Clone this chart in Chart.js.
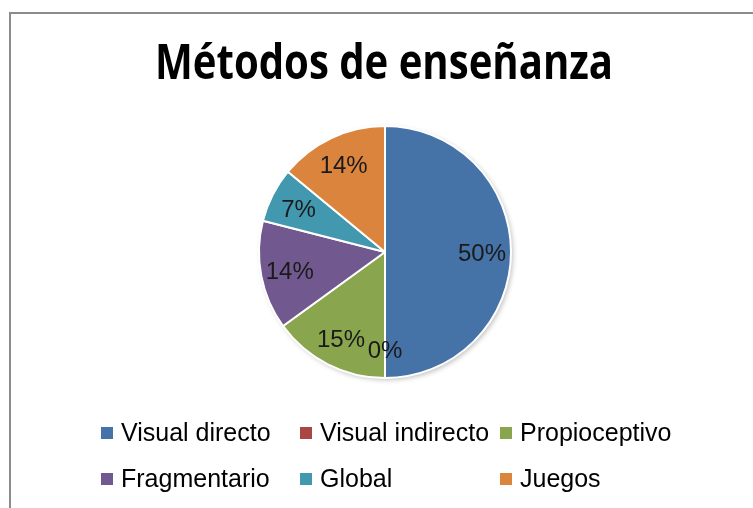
<!DOCTYPE html>
<html>
<head>
<meta charset="utf-8">
<script src="https://cdn.jsdelivr.net/npm/chart.js@4.4.1/dist/chart.umd.min.js"></script>
<style>
  html, body { margin: 0; padding: 0; background: #fff; }
  #wrap { position: relative; width: 753px; height: 508px; }
</style>
</head>
<body>
<div id="wrap"><canvas id="pieChart" width="753" height="508"></canvas></div>
<script>
// Datos del gráfico
const titleText = 'Métodos de enseñanza';
const categories = ['Visual directo', 'Visual indirecto', 'Propioceptivo', 'Fragmentario', 'Global', 'Juegos'];
const percentages = [50, 0, 15, 14, 7, 14];
const sliceColors = ['#4572A7', '#AA4643', '#89A54E', '#71588F', '#4198AF', '#DB843D'];

// marco, título, etiquetas y leyenda dibujados a mano
const decorPlugin = {
  id: 'decor',
  beforeDraw(chart) {
    const ctx = chart.ctx;
    ctx.save();
    ctx.strokeStyle = '#8c8c8c';
    ctx.lineWidth = 2;
    ctx.strokeRect(10, 13, 760, 520);
    ctx.restore();
  },
  beforeDatasetsDraw(chart) {
    // sombra suave bajo el pastel
    const ctx = chart.ctx;
    ctx.save();
    ctx.shadowColor = 'rgba(0,0,0,0.25)';
    ctx.shadowBlur = 5;
    ctx.shadowOffsetX = 2;
    ctx.shadowOffsetY = 2;
    const arc = chart.getDatasetMeta(0).data[0];
    ctx.beginPath();
    ctx.arc(arc.x, arc.y, arc.outerRadius, 0, Math.PI * 2);
    ctx.fillStyle = '#fff';
    ctx.fill();
    ctx.restore();
  },
  afterDraw(chart) {
    const ctx = chart.ctx;
    ctx.save();
    // título (estrecho, como en el original)
    ctx.fillStyle = '#000';
    ctx.font = 'bold 49px "Open Sans"';
    ctx.textAlign = 'left';
    ctx.textBaseline = 'alphabetic';
    const w = ctx.measureText(titleText).width;
    const sx = 458 / w;
    ctx.save();
    ctx.translate(155, 79);
    ctx.scale(sx, 1);
    ctx.fillText(titleText, 0, 0);
    ctx.restore();

    // porcentajes
    ctx.font = '24px "Liberation Sans"';
    ctx.textAlign = 'center';
    ctx.textBaseline = 'middle';
    ctx.fillStyle = '#1a1a1a';
    chart.getDatasetMeta(0).data.forEach((arc, i) => {
      const mid = (arc.startAngle + arc.endAngle) / 2;
      const r = arc.outerRadius * 0.77;
      const x = arc.x + Math.cos(mid) * r;
      const y = arc.y + Math.sin(mid) * r + 2;
      ctx.fillText(percentages[i] + '%', x, y);
    });

    // leyenda en dos filas
    const colX = [101, 300, 500];
    const rowY = [433, 479];
    ctx.textAlign = 'left';
    ctx.font = '25px "Liberation Sans"';
    categories.forEach((name, i) => {
      const x = colX[i % 3];
      const y = rowY[Math.floor(i / 3)];
      ctx.fillStyle = sliceColors[i];
      ctx.fillRect(x, y - 6, 12, 12);
      ctx.fillStyle = '#000';
      ctx.fillText(name, x + 20, y + 1);
    });
    ctx.restore();
  }
};

new Chart(document.getElementById('pieChart'), {
  type: 'pie',
  data: {
    labels: categories,
    datasets: [{
      data: percentages,
      backgroundColor: sliceColors,
      borderColor: '#fff',
      borderWidth: 2
    }]
  },
  options: {
    responsive: false,
    animation: false,
    rotation: 0,
    layout: {
      padding: { top: 125, bottom: 129, left: 17, right: 0 }
    },
    plugins: {
      legend: { display: false },
      title: { display: false },
      tooltip: { enabled: false }
    }
  },
  plugins: [decorPlugin]
});
</script>
</body>
</html>
